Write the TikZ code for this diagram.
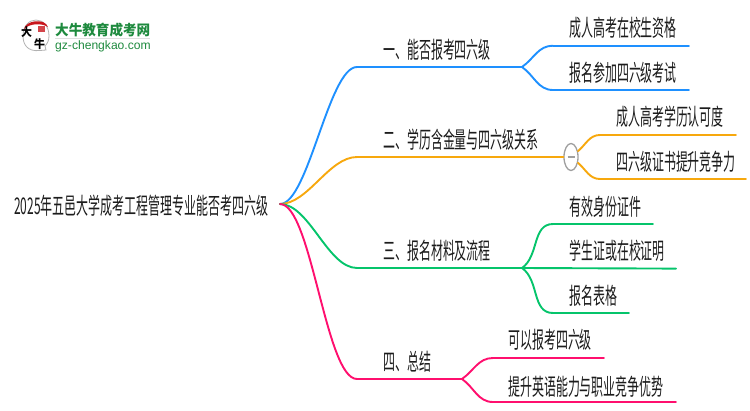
\documentclass[tikz,border=0pt]{standalone}
\usepackage{fontspec}
\usepackage{tikz}
\usetikzlibrary{shapes.geometric}
\newfontfamily\cjknarrow[FakeStretch=0.52]{Noto Sans CJK SC}
\newfontfamily\cjklogo[FakeStretch=0.95]{Noto Sans CJK SC}
\newfontfamily\urlfont{Liberation Sans}
\definecolor{cblue}{HTML}{1E90FF}
\definecolor{corange}{HTML}{F7A80D}
\definecolor{cgreen}{HTML}{05C46B}
\definecolor{cpink}{HTML}{FF0F6E}
\definecolor{cink}{HTML}{1C1C1C}
\definecolor{clogo}{HTML}{1E8A3E}
\definecolor{cseal}{HTML}{C8161D}
\tikzset{
  topic/.style={anchor=west, inner sep=0pt, text=cink, font=\cjknarrow\fontsize{23}{23}\selectfont},
  branch/.style={line width=1.9pt, line cap=round},
  link/.style={out=0, in=180},
  forkup/.style={out=35, in=180},
  forkdown/.style={out=-35, in=180},
  foldbox/.style={ellipse, draw=gray!75, line width=1.3pt, fill=white, inner sep=0pt, minimum width=14pt, minimum height=27pt},
}
\begin{document}
\begin{tikzpicture}[x=1pt,y=-1pt]
  \useasboundingbox (0,0) rectangle (750,410);
  % logo
  \draw[gray!60, line width=.8pt, fill=white] (46,50) -- (40,50.5) .. controls (27,52) and (23,44) .. (23,36)
    .. controls (23,26) and (29,20) .. (36,20) .. controls (43,20) and (49,26) .. (49,36) .. controls (49,41) and (47,44) .. (45,46) -- cycle;
  \fill[cseal] (24,29) .. controls (26,20) and (45,18) .. (48,27) .. controls (42,23) and (30,23) .. (24,29) -- cycle;
  \fill[cseal!80] (38,26) rectangle (45,32);
  \node[inner sep=0pt, font=\cjklogo\bfseries\fontsize{11.5}{12}\selectfont] (logoa) at (26.5,32.5) {大};
  \node[inner sep=0pt, font=\cjklogo\bfseries\fontsize{11.5}{12}\selectfont] (logob) at (39.5,44) {牛};
  \node[inner sep=0pt, anchor=west, text=clogo, font=\cjklogo\bfseries\fontsize{14.3}{14}\selectfont] (logoname) at (55,30) {大牛教育成考网};
  \node[inner sep=0pt, anchor=west, text=clogo, font=\urlfont\fontsize{12.1}{13}\selectfont] (logourl) at (55,46) {gz-chengkao.com};
  \fill[gray!25] (55,38.4) rectangle (150,39.4);

  % texts
  \node[topic] (root) at (14,206) {2025年五邑大学成考工程管理专业能否考四六级};
  \node[topic] (topa) at (383,50) {一、能否报考四六级};
  \node[topic] (topb) at (383,140) {二、学历含金量与四六级关系};
  \node[topic] (topc) at (383,251) {三、报名材料及流程};
  \node[topic] (topd) at (383,362) {四、总结};
  \node[topic] (a1) at (569,28) {成人高考在校生资格};
  \node[topic] (a2) at (569,73) {报名参加四六级考试};
  \node[topic] (b1) at (616,117) {成人高考学历认可度};
  \node[topic] (b2) at (616,162) {四六级证书提升竞争力};
  \node[topic] (c1) at (569,207) {有效身份证件};
  \node[topic] (c2) at (569,251) {学生证或在校证明};
  \node[topic] (c3) at (569,296) {报名表格};
  \node[topic] (d1) at (508,340) {可以报考四六级};
  \node[topic] (d2) at (508,387) {提升英语能力与职业竞争优势};

  % junction points
  \coordinate (rootend) at (280,204);
  \coordinate (as) at (357,67);   \coordinate (ae) at (522,67);
  \coordinate (bs) at (357,157);
  \coordinate (cs) at (357,268);  \coordinate (ce) at (522,268);
  \coordinate (ds) at (357,379);  \coordinate (de) at (462,379);
  \coordinate (a1s) at (553,45.7); \coordinate (a1e) at (689,45.7);
  \coordinate (a2s) at (553,90);   \coordinate (a2e) at (689,90);
  \coordinate (b1s) at (600,135);  \coordinate (b1e) at (736,135);
  \coordinate (b2s) at (600,179);  \coordinate (b2e) at (746,179);
  \coordinate (c1s) at (553,224);  \coordinate (c1e) at (653,224);
  \coordinate (c2e) at (676,268.6);
  \coordinate (c3s) at (553,313);  \coordinate (c3e) at (629,313);
  \coordinate (d1s) at (493,358);  \coordinate (d1e) at (604,358);
  \coordinate (d2s) at (493,402);  \coordinate (d2e) at (676,402);
  \node[foldbox] (fold) at (571,157) {};

  \path[branch,cblue]
  (rootend) edge[link, looseness=.46] (as)
  (as) edge (ae)
  (ae) edge[forkup] (a1s)
  edge[forkdown] (a2s)
  (a1s) edge (a1e)
  (a2s) edge (a2e);
  \path[branch,corange]
  (rootend) edge[link, looseness=.8] (bs)
  (bs) edge (fold)
  (fold) edge[out=40, in=180] (b1s)
  edge[out=-40, in=180] (b2s)
  (b1s) edge (b1e)
  (b2s) edge (b2e);
  \path[branch,cgreen]
  (rootend) edge[link, looseness=.75] (cs)
  (cs) edge (ce)
  (ce) edge[forkup] (c1s)
  edge (c2e)
  edge[forkdown] (c3s)
  (c1s) edge (c1e)
  (c3s) edge (c3e);
  \path[branch,cpink]
  (rootend) edge[link, looseness=.42] (ds)
  (ds) edge (de)
  (de) edge[forkup] (d1s)
  edge[forkdown] (d2s)
  (d1s) edge (d1e)
  (d2s) edge (d2e);
  \draw[gray!75, line width=1.3pt] ([xshift=-3.5pt]fold.center) -- ([xshift=3.5pt]fold.center);
\end{tikzpicture}
\end{document}
